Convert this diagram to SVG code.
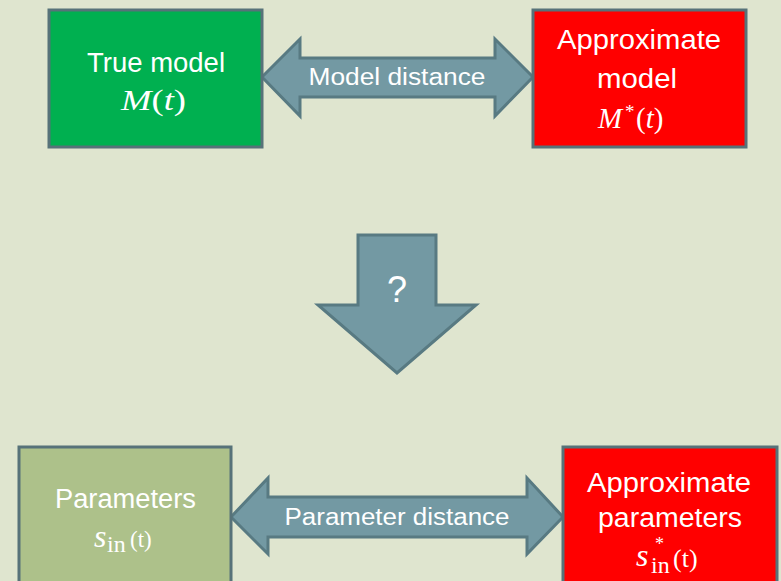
<svg xmlns="http://www.w3.org/2000/svg" width="781" height="581" viewBox="0 0 781 581">
<style>
.box{stroke:#577279;stroke-width:3}
.arrow{fill:#7399a3;stroke:#587a82;stroke-width:3;stroke-linejoin:miter}
.t{font-family:"Liberation Sans","DejaVu Sans",sans-serif;font-size:27px;fill:#fff;text-anchor:middle}
.m{font-family:"Liberation Serif","DejaVu Serif",serif;font-size:29px;fill:#fff}
.i{font-style:italic}
.lbl{font-family:"Liberation Sans","DejaVu Sans",sans-serif;font-size:23px;fill:#fff;text-anchor:middle}
</style>
<rect width="781" height="581" fill="#dfe5cf"/>
<g id="connectors">
<path class="arrow" d="M262,77 L300,39 L300,58 L495,58 L495,39 L533,77 L495,116 L495,97 L300,97 L300,116 Z"/>
<text class="lbl" x="397" y="85" textLength="177" lengthAdjust="spacingAndGlyphs">Model distance</text>
<path class="arrow" d="M358,235 L436,235 L436,305 L476,305 L397,373 L318,305 L358,305 Z"/>
<text x="397" y="302" style="font-family:'Liberation Sans',sans-serif;font-size:36px;fill:#fff;text-anchor:middle">?</text>
<path class="arrow" d="M231,517 L268,478 L268,497 L527,497 L527,478 L563,517 L527,554 L527,537 L268,537 L268,554 Z"/>
<text class="lbl" x="397" y="525" textLength="225" lengthAdjust="spacingAndGlyphs">Parameter distance</text>
</g>
<g id="true-model">
<rect class="box" x="49" y="10" width="213" height="137" fill="#00b050"/>
<text class="t" x="156" y="72" textLength="138" lengthAdjust="spacingAndGlyphs">True model</text>
<text class="m" x="121" y="110" textLength="65" lengthAdjust="spacingAndGlyphs"><tspan class="i">M</tspan>(<tspan class="i">t</tspan>)</text>
</g>
<g id="approx-model">
<rect class="box" x="533" y="10" width="213" height="137" fill="#ff0000"/>
<text class="t" x="639" y="49" textLength="164" lengthAdjust="spacingAndGlyphs">Approximate</text>
<text class="t" x="637" y="88" textLength="80" lengthAdjust="spacingAndGlyphs">model</text>
<text class="m" x="598" y="128"><tspan class="i">M</tspan><tspan style="font-size:19px" x="625" y="118">*</tspan><tspan x="636" y="128">(</tspan><tspan class="i">t</tspan>)</text>
</g>
<g id="parameters">
<rect class="box" x="19" y="447" width="212" height="140" fill="#adc18a"/>
<text class="t" x="125.5" y="508" textLength="141" lengthAdjust="spacingAndGlyphs">Parameters</text>
<text class="m" x="94" y="547" style="font-size:32px"><tspan class="i">s</tspan><tspan style="font-size:24px" x="107" y="552">in</tspan><tspan style="font-size:23px" x="130" y="547">(t)</tspan></text>
</g>
<g id="approx-parameters">
<rect class="box" x="563" y="447" width="214" height="140" fill="#ff0000"/>
<text class="t" x="669" y="492" textLength="164" lengthAdjust="spacingAndGlyphs">Approximate</text>
<text class="t" x="670" y="527" textLength="144" lengthAdjust="spacingAndGlyphs">parameters</text>
<text class="m" x="636" y="566" style="font-size:32px"><tspan class="i">s</tspan><tspan style="font-size:18px" x="655" y="550">*</tspan><tspan style="font-size:24px" x="651" y="573">in</tspan><tspan style="font-size:26px" x="673" y="567">(t)</tspan></text>
</g>
</svg>
